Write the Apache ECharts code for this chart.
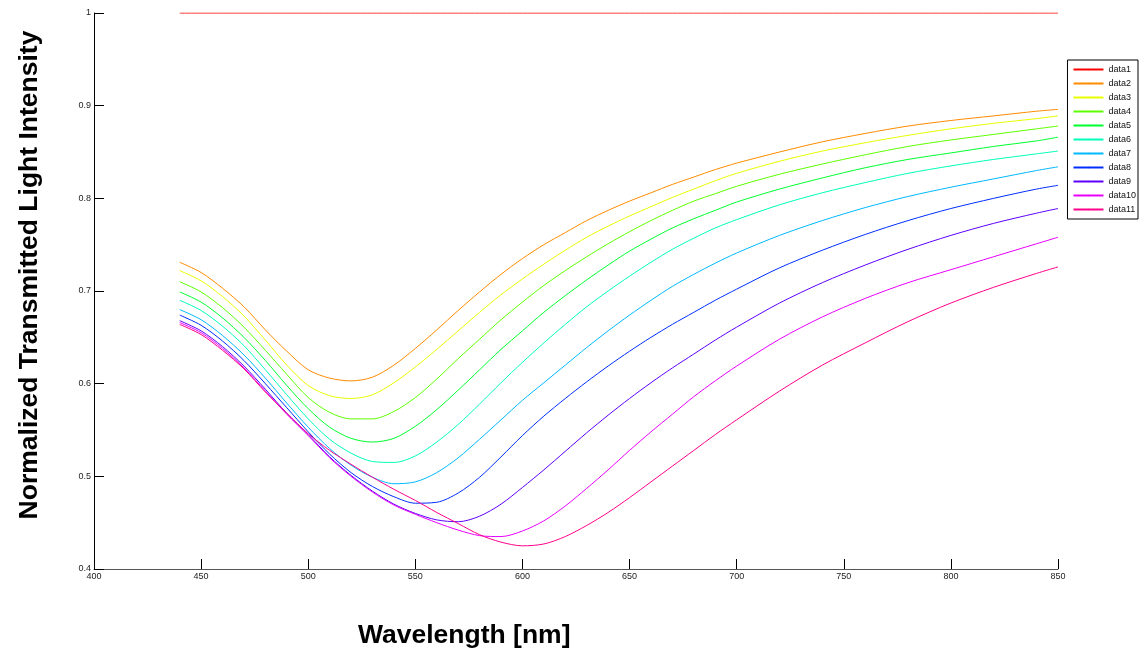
<!DOCTYPE html>
<html>
<head>
<meta charset="utf-8">
<script src="https://cdn.jsdelivr.net/npm/echarts@6/dist/echarts.min.js"></script>
<style>
  html, body { margin: 0; padding: 0; background: #fff; }
  #chart { width: 1143px; height: 655px; }
</style>
</head>
<body>
<div id="chart"></div>
<script>
// wavelength samples [nm]
const wavelengths = [440, 450, 460, 470, 480, 490, 500, 510, 520, 530, 540, 550, 560, 570, 580, 590, 600,
  610, 620, 630, 640, 650, 660, 670, 680, 690, 700, 720, 740, 760, 780, 800, 820, 840, 850];

// normalized transmitted intensity for each curve
const data1 = wavelengths.map(() => 1);
const data2 = [0.731, 0.720, 0.703, 0.683, 0.658, 0.635, 0.615, 0.606, 0.603, 0.607, 0.620, 0.638, 0.658, 0.679, 0.699, 0.718, 0.735,
  0.750, 0.763, 0.776, 0.787, 0.797, 0.806, 0.815, 0.823, 0.831, 0.838, 0.850, 0.861, 0.870, 0.878, 0.884, 0.889, 0.894, 0.896];
const data3 = [0.722, 0.711, 0.694, 0.673, 0.647, 0.620, 0.598, 0.587, 0.584, 0.588, 0.601, 0.618, 0.637, 0.657, 0.677, 0.696, 0.713,
  0.729, 0.744, 0.758, 0.770, 0.781, 0.791, 0.801, 0.810, 0.819, 0.827, 0.840, 0.851, 0.860, 0.868, 0.875, 0.881, 0.886, 0.889];
const data4 = [0.710, 0.699, 0.682, 0.661, 0.636, 0.610, 0.585, 0.569, 0.562, 0.562, 0.570, 0.585, 0.605, 0.627, 0.648, 0.669, 0.688,
  0.706, 0.722, 0.737, 0.751, 0.764, 0.776, 0.787, 0.797, 0.805, 0.813, 0.826, 0.837, 0.847, 0.856, 0.863, 0.869, 0.875, 0.878];
const data5 = [0.699, 0.688, 0.671, 0.650, 0.625, 0.598, 0.573, 0.553, 0.541, 0.537, 0.541, 0.554, 0.572, 0.593, 0.615, 0.637, 0.657,
  0.677, 0.695, 0.712, 0.728, 0.743, 0.756, 0.768, 0.778, 0.787, 0.796, 0.810, 0.822, 0.833, 0.842, 0.849, 0.856, 0.862, 0.866];
const data6 = [0.690, 0.679, 0.662, 0.641, 0.615, 0.588, 0.562, 0.540, 0.525, 0.516, 0.515, 0.522, 0.537, 0.556, 0.578, 0.601, 0.623,
  0.644, 0.664, 0.683, 0.700, 0.716, 0.731, 0.745, 0.757, 0.768, 0.777, 0.793, 0.806, 0.817, 0.827, 0.835, 0.842, 0.848, 0.851];
const data7 = [0.680, 0.669, 0.652, 0.631, 0.606, 0.579, 0.553, 0.530, 0.512, 0.499, 0.492, 0.494, 0.504, 0.520, 0.540, 0.561, 0.582,
  0.601, 0.620, 0.639, 0.657, 0.674, 0.690, 0.705, 0.718, 0.730, 0.741, 0.760, 0.776, 0.790, 0.802, 0.812, 0.821, 0.830, 0.834];
const data8 = [0.674, 0.663, 0.646, 0.625, 0.600, 0.574, 0.548, 0.524, 0.504, 0.489, 0.478, 0.471, 0.472, 0.482, 0.499, 0.521, 0.544,
  0.565, 0.584, 0.602, 0.619, 0.635, 0.650, 0.664, 0.677, 0.690, 0.702, 0.725, 0.744, 0.761, 0.776, 0.789, 0.800, 0.810, 0.814];
const data9 = [0.668, 0.657, 0.640, 0.619, 0.594, 0.568, 0.545, 0.521, 0.501, 0.484, 0.470, 0.460, 0.453, 0.451, 0.457, 0.470, 0.488,
  0.507, 0.527, 0.547, 0.566, 0.584, 0.601, 0.617, 0.632, 0.647, 0.661, 0.687, 0.709, 0.728, 0.745, 0.760, 0.773, 0.784, 0.789];
const data10 = [0.666, 0.655, 0.638, 0.617, 0.592, 0.567, 0.544, 0.520, 0.500, 0.483, 0.469, 0.459, 0.450, 0.442, 0.436, 0.435, 0.441,
  0.452, 0.468, 0.487, 0.507, 0.528, 0.548, 0.567, 0.586, 0.603, 0.619, 0.648, 0.672, 0.692, 0.709, 0.723, 0.737, 0.751, 0.758];
const data11 = [0.664, 0.653, 0.636, 0.616, 0.591, 0.568, 0.546, 0.528, 0.513, 0.499, 0.486, 0.474, 0.461, 0.449, 0.437, 0.429, 0.425,
  0.427, 0.435, 0.447, 0.461, 0.477, 0.494, 0.511, 0.528, 0.545, 0.561, 0.592, 0.620, 0.644, 0.667, 0.687, 0.704, 0.719, 0.726];

const seriesNames = ['data1', 'data2', 'data3', 'data4', 'data5', 'data6', 'data7', 'data8', 'data9', 'data10', 'data11'];
const seriesValues = [data1, data2, data3, data4, data5, data6, data7, data8, data9, data10, data11];
// hsv(11) colormap
const colors = ['#ff0000', '#ff8b00', '#e8ff00', '#5dff00', '#00ff2e', '#00ffb9', '#00b9ff', '#002eff', '#5d00ff', '#e800ff', '#ff008b'];

const chart = echarts.init(document.getElementById('chart'), null, { renderer: 'canvas' });

const series = seriesNames.map((name, i) => ({
  name: name,
  type: 'line',
  data: wavelengths.map((w, j) => [w, seriesValues[i][j]]),
  smooth: 0.3,
  smoothConstraint: false,
  symbol: 'none',
  lineStyle: { width: 1, color: colors[i] },
  itemStyle: { color: colors[i] },
  emphasis: { disabled: true },
  z: 2
}));

const option = {
  animation: false,
  backgroundColor: '#fff',
  grid: {
    left: 94,
    right: 85,
    top: 13,
    bottom: 86
  },
  xAxis: {
    type: 'value',
    min: 400,
    max: 850,
    interval: 50,
    axisLine: { show: true, lineStyle: { color: '#555', width: 1 } },
    axisTick: { show: true, inside: true, length: 10, lineStyle: { color: '#000' } },
    axisLabel: { color: '#222', fontSize: 9, fontFamily: 'Liberation Sans', margin: 3 },
    splitLine: { show: false }
  },
  yAxis: {
    type: 'value',
    min: 0.4,
    max: 1,
    interval: 0.1,
    axisLine: { show: true, lineStyle: { color: '#000', width: 1 } },
    axisTick: { show: true, inside: true, length: 10, lineStyle: { color: '#000' } },
    axisLabel: { color: '#222', fontSize: 9, fontFamily: 'Liberation Sans', margin: 3 },
    splitLine: { show: false }
  },
  legend: {
    orient: 'vertical',
    right: 5,
    top: 60,
    itemWidth: 30,
    itemHeight: 2,
    itemGap: 3,
    padding: [4, 2, 4, 5],
    borderColor: '#000',
    borderWidth: 1,
    backgroundColor: '#fff',
    textStyle: { fontSize: 9, fontFamily: 'Liberation Sans', color: '#111', lineHeight: 11 },
    data: seriesNames
  },
  graphic: [
    {
      type: 'text',
      left: 358,
      top: 622,
      style: {
        text: 'Wavelength [nm]',
        font: 'bold 26.5px "Liberation Sans", Arial, sans-serif',
        fill: '#000'
      }
    },
    {
      type: 'text',
      x: 30,
      y: 275,
      rotation: Math.PI / 2,
      style: {
        text: 'Normalized Transmitted Light Intensity',
        font: 'bold 26.5px "Liberation Sans", Arial, sans-serif',
        fill: '#000',
        align: 'center',
        verticalAlign: 'middle'
      }
    }
  ],
  series: series
};

chart.setOption(option);
</script>
</body>
</html>
